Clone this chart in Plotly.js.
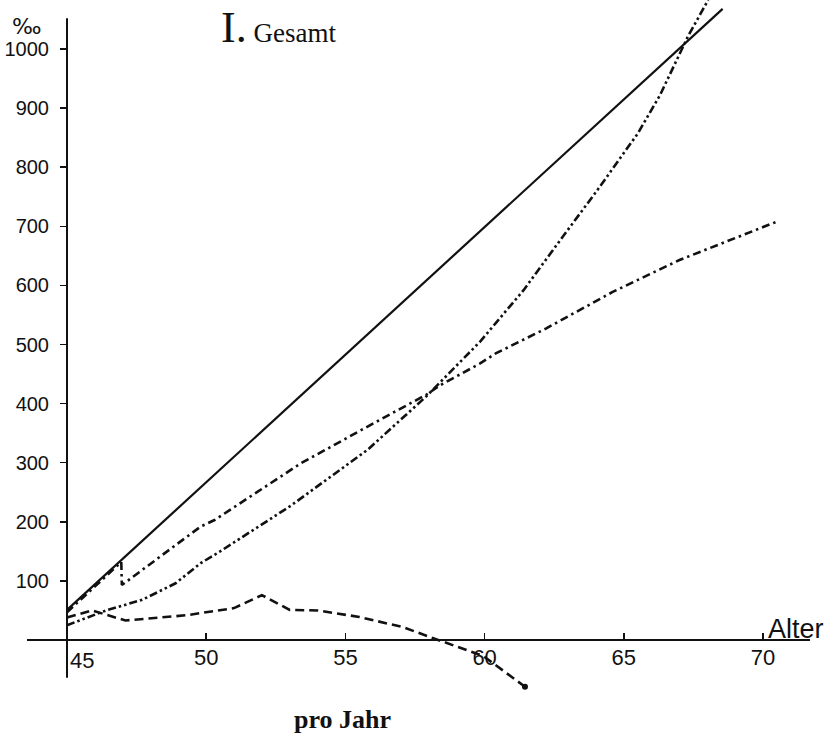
<!DOCTYPE html>
<html>
<head>
<meta charset="utf-8">
<script src="https://cdn.plot.ly/plotly-3.0.1.min.js"></script>
<style>html,body{margin:0;padding:0;background:#fff;}#chart{width:831px;height:737px;}</style>
</head>
<body>
<div id="chart"></div>
<script>
// ---- Data (Alter in Jahren, Werte in ‰ pro Jahr) ----
var solidAge = [45, 68.55];
var solidVal = [51, 1068];

var dashDotAge = [45, 46.95, 46.97, 48.6, 49.8, 50.3, 53.4, 56.1, 57.9, 58.4, 59.84, 60.4, 62.2, 64.6, 67.0, 70.5];
var dashDotVal = [47, 132, 93, 150, 192, 203, 299, 369, 415, 431, 468, 485, 527, 589, 643, 708];

var dashDotDotAge = [45, 46.4, 47.7, 48.9, 49.8, 50.5, 53.0, 55.8, 57.9, 59.84, 60.43, 61.4, 62.8, 64.0, 65.5, 66.3, 67.3, 68.03];
var dashDotDotVal = [25, 50, 68, 96, 130, 150, 226, 322, 412, 505, 538, 592, 682, 758, 857, 922, 1021, 1083];

var dashedAge = [45, 45.9, 47.1, 49.3, 51.0, 52.0, 53.0, 54.0, 55.5, 57.05, 58.28, 59.95, 61.45];
var dashedVal = [38, 50, 33, 42, 54, 76, 51, 50, 39, 22, 1, -27, -79];

var xTickVals = [45, 50, 55, 60, 65, 70];
var xTickText = ["45", "50", "55", "60", "65", "70"];
var yTickVals = [100, 200, 300, 400, 500, 600, 700, 800, 900, 1000];
var yTickText = ["100", "200", "300", "400", "500", "600", "700", "800", "900", "1000"];

var xRange = [43.563, 71.688];
var yRange = [-101.5, 1083];
var yAxisSpan = [-64, 1052];

var ink = "#111";

var traces = [
  {x: solidAge, y: solidVal, mode: "lines", line: {color: ink, width: 2.2}, hoverinfo: "skip"},
  {x: dashDotAge, y: dashDotVal, mode: "lines", line: {color: ink, width: 2.6, dash: "8px,4px,2.5px,4px"}, hoverinfo: "skip"},
  {x: dashDotDotAge, y: dashDotDotVal, mode: "lines", line: {color: ink, width: 2.6, dash: "8px,3px,2.5px,3px,2.5px,3px"}, hoverinfo: "skip"},
  {x: dashedAge, y: dashedVal, mode: "lines", line: {color: ink, width: 2.6, dash: "9px,5px"}, hoverinfo: "skip"},
  {x: [dashedAge[dashedAge.length - 1]], y: [dashedVal[dashedVal.length - 1]], mode: "markers",
   marker: {color: ink, size: 6, symbol: "circle"}, hoverinfo: "skip"}
];

var x0 = xRange[0], x1 = xRange[1];
var yAxisPos = (45 - x0) / (x1 - x0);
var xAxisPos = (0 - yRange[0]) / (yRange[1] - yRange[0]);

var tickFont = {family: "Liberation Sans, Arial, sans-serif", size: 20, color: ink};

var layout = {
  width: 831, height: 737,
  margin: {l: 27, r: 21, t: 0, b: 37},
  paper_bgcolor: "#fff", plot_bgcolor: "#fff",
  showlegend: false,
  xaxis: {
    range: xRange, showgrid: false, zeroline: false,
    anchor: "free", position: xAxisPos,
    showline: true, linecolor: ink, linewidth: 2,
    tickmode: "array", tickvals: xTickVals,
    ticktext: xTickText.map(function (t, i) { return i === 0 ? "" : t; }),
    ticks: "inside", ticklen: 6, tickwidth: 1.5, tickcolor: ink,
    tickfont: {family: tickFont.family, size: 22, color: ink},
    ticklabelstandoff: -2
  },
  yaxis: {
    range: yRange, showgrid: false, zeroline: false,
    anchor: "free", position: yAxisPos,
    showline: false,
    tickmode: "array", tickvals: yTickVals, ticktext: yTickText,
    ticks: "outside", ticklen: 7, tickwidth: 1.5, tickcolor: ink,
    tickfont: tickFont,
    ticklabelstandoff: 7
  },
  shapes: [
    {type: "line", xref: "x", yref: "y", x0: 45, x1: 45, y0: yAxisSpan[0], y1: yAxisSpan[1],
     line: {color: ink, width: 2}}
  ],
  annotations: [
    {xref: "x", yref: "y", x: xTickVals[0], y: 0, text: xTickText[0], showarrow: false,
     xanchor: "left", yanchor: "top", xshift: 1, yshift: -6,
     font: {family: tickFont.family, size: 22, color: ink}},
    {xref: "paper", yref: "paper", x: 0, y: (700 - 26) / 700, text: "‰", showarrow: false,
     xanchor: "center", yanchor: "middle", font: {family: "DejaVu Sans, sans-serif", size: 22, color: ink}},
    {xref: "paper", yref: "paper", x: (219 - 27) / 783, y: (700 - 27) / 700,
     text: '<span style="font-size:44px">I.</span> Gesamt', showarrow: false,
     xanchor: "left", yanchor: "middle",
     font: {family: "Liberation Serif, Times New Roman, serif", size: 27, color: ink}},
    {xref: "paper", yref: "paper", x: (342 - 27) / 783, y: (700 - 719) / 700,
     text: "<b>pro Jahr</b>", showarrow: false, xanchor: "center", yanchor: "middle",
     font: {family: "Liberation Serif, Times New Roman, serif", size: 26, color: ink}},
    {xref: "x", yref: "y", x: 70.12, y: 0, text: "Alter", showarrow: false,
     xanchor: "left", yanchor: "bottom", yshift: -6,
     font: {family: "Liberation Sans, Arial, sans-serif", size: 27, color: ink}}
  ]
};

Plotly.newPlot("chart", traces, layout, {staticPlot: true, displayModeBar: false});
</script>
</body>
</html>
